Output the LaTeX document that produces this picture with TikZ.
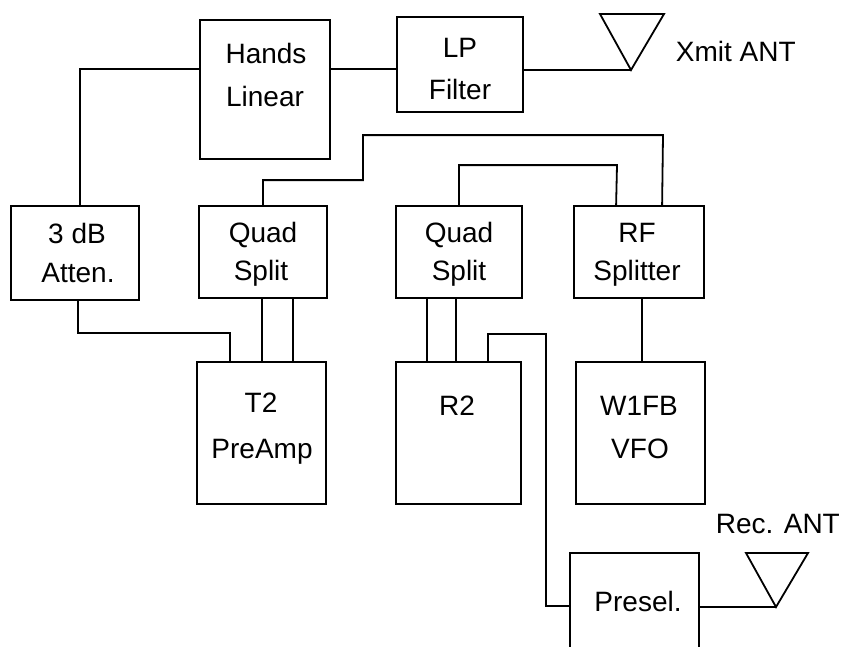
\documentclass[tikz,border=0pt]{standalone}
\usepackage{fontspec}
\setmainfont{Liberation Sans}
\usetikzlibrary{calc}

\begin{document}
\begin{tikzpicture}[x=1pt, y=-1pt, line width=1.8pt,
		blk/.style={draw, rectangle, inner sep=0pt, minimum width=128pt},
		txt/.style={anchor=base, inner sep=0pt, font=\fontsize{28}{34}\selectfont}]
		\useasboundingbox (0,0) rectangle (842,646);

		% blocks
		\node[blk, minimum width=130pt, minimum height=139pt] (hands) at (265,89.5) {};
		\node[blk, minimum width=126pt, minimum height=95pt] (lp) at (460,64.5) {};
		\node[blk, minimum height=94pt] (atten) at (75,253) {};
		\node[blk, minimum height=92pt] (qs1) at (263,252) {};
		\node[blk, minimum width=126pt, minimum height=92pt] (qs2) at (459,252) {};
		\node[blk, minimum width=130pt, minimum height=92pt] (rfs) at (639,252) {};
		\node[blk, minimum width=129pt, minimum height=142pt] (t2) at (261.5,433) {};
		\node[blk, minimum width=125pt, minimum height=142pt] (r2) at (458.5,433) {};
		\node[blk, minimum width=129pt, minimum height=142pt] (vfo) at (640.5,433) {};
		\node[blk, minimum width=129pt, minimum height=117pt] (presel) at (634.5,611.5) {};

		% block texts
		\foreach \x/\y/\t/\n in {266/63/Hands/handsA, 265/106/Linear/handsB,
				460/57/LP/lpA, 460/99/Filter/lpB,
				77/243/{3 dB}/attenA, 78/282/Atten./attenB,
				263/242/Quad/qsA, 261/280/Split/qsB,
				459/242/Quad/qsC, 459/280/Split/qsD,
				637/242/RF/rfsA, 637/280/Splitter/rfsB,
				261/412/T2/tA, 262/458/PreAmp/tB,
				457/415/R2/rA,
				639/415/W1FB/vfoA, 640/458/VFO/vfoB,
				638/611/Presel./preselA} {
				\node[txt] (\n) at (\x,\y) {\t};
			}

		% antennas
		\coordinate (xtip) at (631,70);
		\draw (xtip) -- ++(-31,-56) -- ++(64,0) -- cycle;
		\node[txt, anchor=base west] (xant) at (675,61) {Xmit ANT};
		\coordinate (rtip) at (776,607);
		\draw (rtip) -- ++(-30,-54) -- ++(62,0) -- cycle;
		\node[txt, anchor=base west] (rant) at (715,533) {Rec. ANT};

		% transmit side
		\draw ($(hands.north west)+(0,50)$) -| ($(atten.north west)+(70,0)$);
		\draw ($(hands.north east)+(0,50)$) coordinate (h1) -- (h1 -| lp.west);
		\draw (lp.east |- xtip) -- (xtip);
		\draw ($(atten.south west)+(68,0)$) |- ++(152,32) -- ($(t2.north west)+(34,0)$);
		\foreach \dx in {64,95} {
				\draw ($(qs1.south west)+(\dx,0)$) coordinate (q) -- (q |- t2.north);
			}

		% local oscillator
		\draw (qs1.north) |- ++(100,-25) |- ++(300,-45) -- ($(rfs.north west)+(89,0)$);
		\draw (qs2.north) |- ++(158,-40) -- ($(rfs.north west)+(43,0)$);
		\draw ($(rfs.south west)+(69,0)$) coordinate (r1) -- (r1 |- vfo.north);

		% receive side
		\foreach \dx in {32,61} {
				\draw ($(qs2.south west)+(\dx,0)$) coordinate (q) -- (q |- r2.north);
			}
		\draw ($(r2.north west)+(93,0)$) |- ++(58,-27) |- ($(presel.north west)+(0,54)$);
		\draw (presel.east |- rtip) -- (rtip);
	\end{tikzpicture}
\end{document}
